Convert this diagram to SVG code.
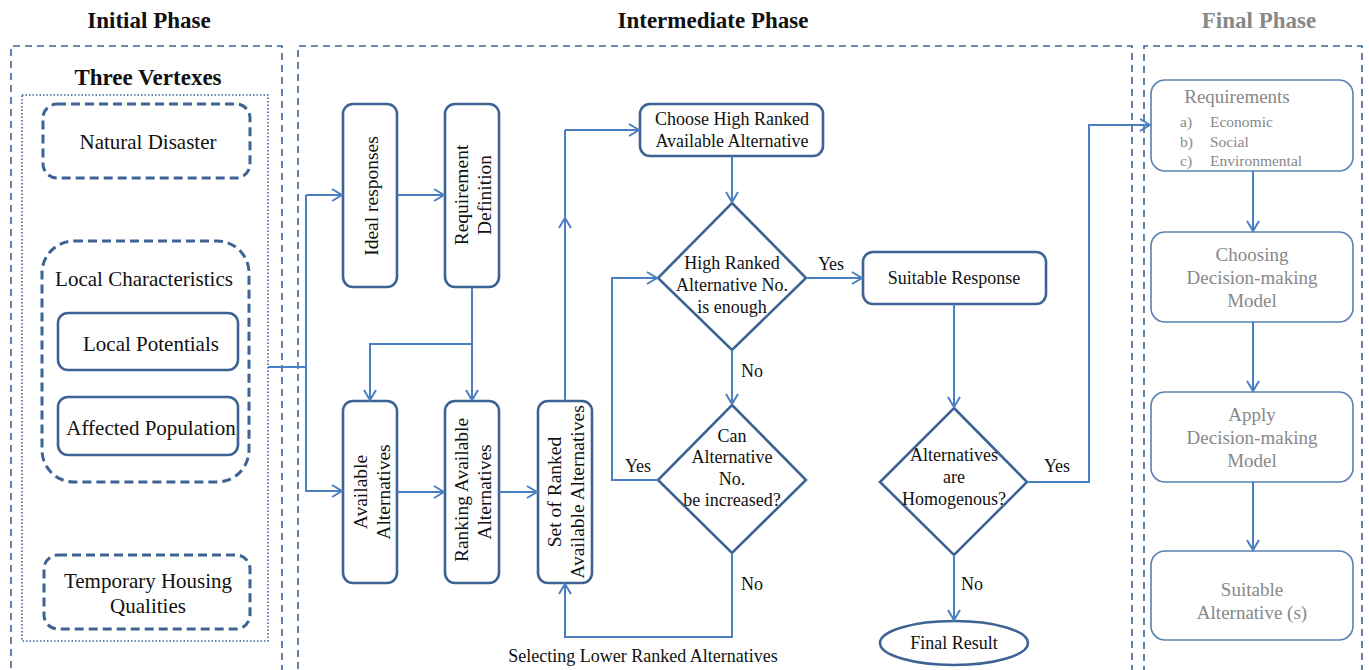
<svg xmlns="http://www.w3.org/2000/svg" width="1369" height="670" viewBox="0 0 1369 670">
<defs>
<marker id="arr" markerWidth="14" markerHeight="14" refX="11" refY="7" orient="auto" markerUnits="userSpaceOnUse">
<path d="M1,1 L11,7 L1,13" fill="none" stroke="#4a7fc1" stroke-width="2"/>
</marker>
</defs>
<style>
text{font-family:"Liberation Serif","Times New Roman",serif;fill:#111;}
.t{font-size:18px;text-anchor:middle;}
.l{font-size:21px;text-anchor:middle;}
.v{font-size:19.5px;text-anchor:middle;}
.f{font-size:19px;text-anchor:middle;}
.title{font-size:23px;font-weight:bold;text-anchor:middle;}
.panel{fill:none;stroke:#3d6394;stroke-width:1.6;stroke-dasharray:7 5;}
.dnode{fill:none;stroke:#3d6394;stroke-width:3;stroke-dasharray:9 5;}
.node{fill:#fff;stroke:#3d6394;stroke-width:2.6;}
.fnode{fill:#fff;stroke:#5a80b4;stroke-width:1.6;}
.g{fill:#888;}
.c{fill:none;stroke:#4a7fc1;stroke-width:2;}
.ca{fill:none;stroke:#4a7fc1;stroke-width:2;marker-end:url(#arr);}
</style>

<g id="phases">
<text class="title" x="149" y="28">Initial Phase</text>
<text class="title" x="713" y="28">Intermediate Phase</text>
<text class="title" x="1259" y="28" style="fill:#888">Final Phase</text>
<path class="panel" d="M282,672 V46 H11 V672"/>
<path class="panel" d="M1132,672 V46 H298 V672"/>
<path class="panel" d="M1362,672 V46 H1144 V672"/>
<text class="title" x="148" y="85">Three Vertexes</text>
<rect x="22" y="95" width="246" height="546" fill="none" stroke="#3d6394" stroke-width="1.6" stroke-dasharray="1.5 2"/>
</g>

<g id="natural-disaster">
<rect class="dnode" x="43" y="104" width="207" height="74" rx="14"/>
<text class="l" x="148" y="149">Natural Disaster</text>
</g>
<g id="local-characteristics">
<rect class="dnode" x="42" y="241" width="207" height="241" rx="32"/>
<text class="l" x="144" y="286">Local Characteristics</text>
</g>
<g id="local-potentials">
<rect class="node" x="58" y="313" width="180" height="57" rx="10"/>
<text class="l" x="151" y="351">Local Potentials</text>
</g>
<g id="affected-population">
<rect class="node" x="58" y="397" width="180" height="58" rx="10"/>
<text class="l" x="151" y="435">Affected Population</text>
</g>
<g id="temporary-housing">
<rect class="dnode" x="44" y="555" width="206" height="74" rx="14"/>
<text class="l" x="148" y="588">Temporary Housing</text>
<text class="l" x="148" y="613">Qualities</text>
</g>

<g id="ideal-responses">
<rect class="node" x="343" y="104" width="54" height="183" rx="10"/>
<text class="v" transform="translate(378,196) rotate(-90)">Ideal  responses</text>
</g>
<g id="requirement-definition">
<rect class="node" x="445" y="104" width="54" height="183" rx="10"/>
<text class="v" transform="translate(468,195) rotate(-90)">Requirement</text>
<text class="v" transform="translate(491,195) rotate(-90)">Definition</text>
</g>
<g id="available-alternatives">
<rect class="node" x="343" y="401" width="54" height="182" rx="10"/>
<text class="v" transform="translate(367,492) rotate(-90)">Available</text>
<text class="v" transform="translate(390,492) rotate(-90)">Alternatives</text>
</g>
<g id="ranking-available">
<rect class="node" x="445" y="401" width="54" height="182" rx="10"/>
<text class="v" transform="translate(468,490) rotate(-90)">Ranking Available</text>
<text class="v" transform="translate(491,492) rotate(-90)">Alternatives</text>
</g>
<g id="set-of-ranked">
<rect class="node" x="538" y="401" width="54" height="182" rx="10"/>
<text class="v" transform="translate(561,492) rotate(-90)">Set of Ranked</text>
<text class="v" transform="translate(584,492) rotate(-90)">Available Alternatives</text>
</g>
<g id="choose-high">
<rect class="node" x="640" y="104" width="183" height="52" rx="10"/>
<text class="t" x="732" y="125">Choose High Ranked</text>
<text class="t" x="732" y="147">Available Alternative</text>
</g>
<g id="high-ranked-enough">
<polygon class="node" points="732,203 806,278 732,350 658,278"/>
<text class="t" x="732" y="269">High Ranked</text>
<text class="t" x="732" y="291">Alternative No.</text>
<text class="t" x="732" y="313">is enough</text>
</g>
<g id="can-increase">
<polygon class="node" points="732,405 806,480 732,553 658,480"/>
<text class="t" x="732" y="442">Can</text>
<text class="t" x="732" y="463">Alternative</text>
<text class="t" x="732" y="485">No.</text>
<text class="t" x="732" y="506">be increased?</text>
</g>
<g id="suitable-response">
<rect class="node" x="863" y="252" width="183" height="52" rx="10"/>
<text class="t" x="954" y="284">Suitable Response</text>
</g>
<g id="homogenous">
<polygon class="node" points="954,408 1027,482 954,555 880,482"/>
<text class="t" x="954" y="461">Alternatives</text>
<text class="t" x="954" y="483">are</text>
<text class="t" x="954" y="505">Homogenous?</text>
</g>
<g id="final-result">
<ellipse class="node" cx="954" cy="643" rx="74" ry="22"/>
<text class="t" x="954" y="649">Final Result</text>
</g>

<g id="requirements">
<rect class="fnode" x="1151" y="80" width="202" height="91" rx="14"/>
<text class="f g" x="1237" y="103">Requirements</text>
<text class="g" x="1180" y="127" style="font-size:15.5px">a)</text>
<text class="g" x="1210" y="127" style="font-size:15.5px">Economic</text>
<text class="g" x="1180" y="147" style="font-size:15.5px">b)</text>
<text class="g" x="1210" y="147" style="font-size:15.5px">Social</text>
<text class="g" x="1180" y="166" style="font-size:15.5px">c)</text>
<text class="g" x="1210" y="166" style="font-size:15.5px">Environmental</text>
</g>
<g id="choosing-model">
<rect class="fnode" x="1151" y="232" width="202" height="90" rx="14"/>
<text class="f g" x="1252" y="261">Choosing</text>
<text class="f g" x="1252" y="284">Decision-making</text>
<text class="f g" x="1252" y="307">Model</text>
</g>
<g id="apply-model">
<rect class="fnode" x="1151" y="392" width="202" height="90" rx="14"/>
<text class="f g" x="1252" y="421">Apply</text>
<text class="f g" x="1252" y="444">Decision-making</text>
<text class="f g" x="1252" y="467">Model</text>
</g>
<g id="suitable-alternatives">
<rect class="fnode" x="1151" y="551" width="202" height="89" rx="14"/>
<text class="f g" x="1252" y="596">Suitable</text>
<text class="f g" x="1252" y="619">Alternative  (s)</text>
</g>

<g id="connectors">
<path class="c" d="M268,367 H306"/>
<path class="ca" d="M306,195 V491 H342"/>
<path class="ca" d="M306,195 H342"/>
<path class="ca" d="M397,195 H444"/>
<path class="ca" d="M472,287 V400"/>
<path class="ca" d="M472,344 H370 V400"/>
<path class="ca" d="M397,492 H444"/>
<path class="ca" d="M499,492 H537"/>
<path class="c" d="M565,401 V130"/>
<path class="ca" d="M565,240 V218"/>
<path class="ca" d="M565,130 H639"/>
<path class="ca" d="M732,156 V202"/>
<path class="ca" d="M806,278 H862"/>
<path class="ca" d="M732,350 V404"/>
<path class="ca" d="M658,480 H612 V278 H657"/>
<path class="ca" d="M732,553 V637 H565 V584"/>
<path class="ca" d="M954,304 V407"/>
<path class="ca" d="M954,555 V620"/>
<path class="ca" d="M1027,482 H1089 V125 H1150"/>
<path class="ca" d="M1253,171 V231"/>
<path class="ca" d="M1253,322 V391"/>
<path class="ca" d="M1253,482 V550"/>
<text class="t" x="831" y="270">Yes</text>
<text class="t" x="752" y="377">No</text>
<text class="t" x="638" y="472">Yes</text>
<text class="t" x="752" y="590">No</text>
<text class="t" x="1057" y="472">Yes</text>
<text class="t" x="972" y="590">No</text>
<text class="t" x="643" y="662">Selecting Lower Ranked Alternatives</text>
</g>
</svg>
